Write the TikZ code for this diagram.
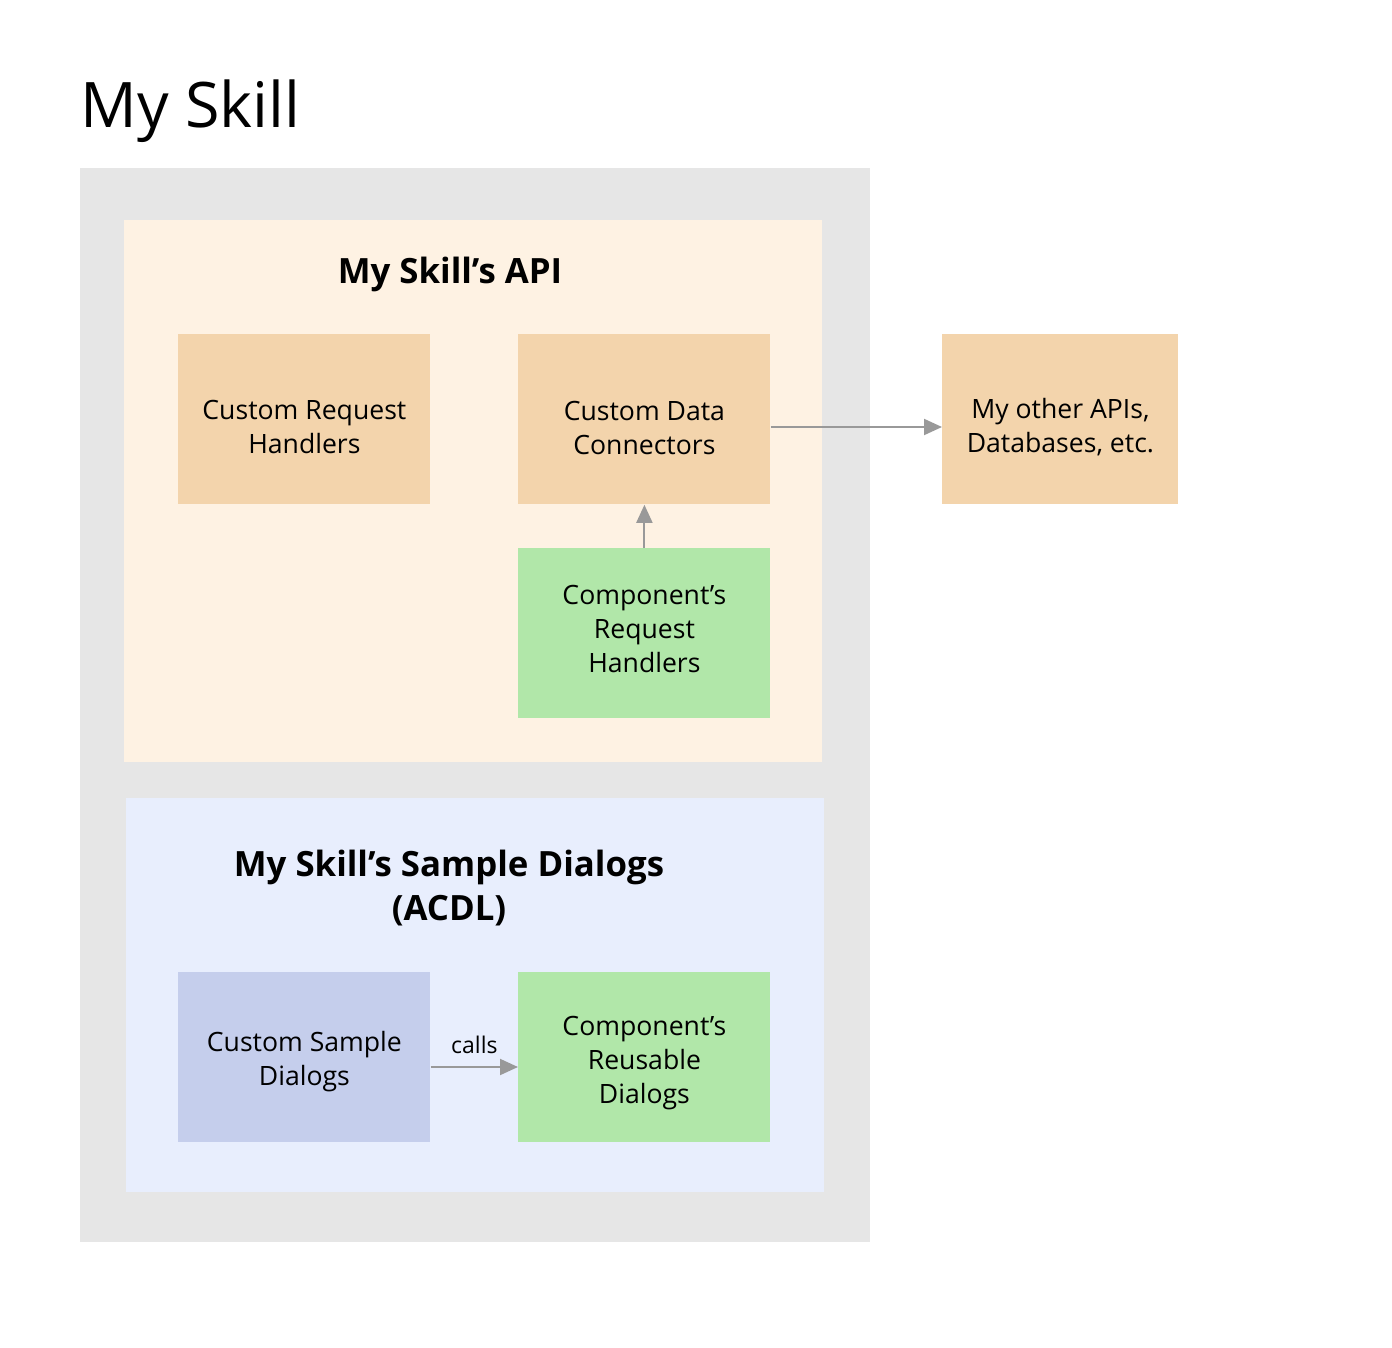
\documentclass[tikz,border=0pt]{standalone}
\usepackage{fontspec}
\setmainfont{Open Sans}
\usetikzlibrary{arrows.meta}
\definecolor{outergray}{HTML}{E6E6E6}
\definecolor{apibg}{HTML}{FEF2E3}
\definecolor{dlgbg}{HTML}{E8EEFD}
\definecolor{orangebox}{HTML}{F3D4AC}
\definecolor{greenbox}{HTML}{B1E7A9}
\definecolor{bluebox}{HTML}{C5CEEC}
\definecolor{arrowgray}{HTML}{999999}
\begin{document}
\begin{tikzpicture}[x=0.5pt,y=-0.5pt,
  region/.style={draw=none,anchor=north west,inner sep=0pt},
  box/.style={draw=none,anchor=north west,inner sep=0pt,minimum width=126pt,minimum height=85pt},
  boxtext/.style={align=center,font=\fontsize{13.3}{17}\selectfont,inner sep=0pt},
  conn/.style={draw=arrowgray,line width=1pt,-{Triangle[length=9pt,width=8pt]}}]
\useasboundingbox (0,0) rectangle (1392,1348);
\fill[white] (0,0) rectangle (1392,1348);
\node[anchor=base west,inner sep=0pt,font=\fontsize{31.4}{36}\selectfont] (title) at (80,128) {My Skill};
\node[region,fill=outergray,minimum width=395pt,minimum height=537pt] (outer) at (80,168) {};
\node[region,fill=apibg,minimum width=349pt,minimum height=271pt] (api) at (124,220) {};
\node[region,fill=dlgbg,minimum width=349pt,minimum height=197pt] (dlg) at (126,798) {};
\node[font=\bfseries\fontsize{17.4}{22}\selectfont] (apititle) at (450,274) {My Skill’s API};
\node[font=\bfseries\fontsize{17.4}{22}\selectfont,align=center] (dlgtitle) at (449,888) {My Skill’s Sample Dialogs\\(ACDL)};
\node[box,fill=orangebox] (crh) at (178,334) {};
\node[boxtext] (crhtext) at ([yshift=-4pt]crh.center) {Custom Request\\Handlers};
\node[box,fill=orangebox] (cdc) at (518,334) {};
\node[boxtext] (cdctext) at ([yshift=-4.5pt]cdc.center) {Custom Data\\Connectors};
\node[box,fill=greenbox] (comprh) at (518,548) {};
\node[boxtext] (comprhtext) at ([yshift=2pt]comprh.center) {Component’s\\Request\\Handlers};
\node[box,fill=orangebox,minimum width=118pt] (other) at (942,334) {};
\node[boxtext] (othertext) at ([yshift=-4pt]other.center) {My other APIs,\\Databases, etc.};
\node[box,fill=bluebox] (csd) at (178,972) {};
\node[boxtext] (csdtext) at ([yshift=-2pt]csd.center) {Custom Sample\\Dialogs};
\node[box,fill=greenbox] (crd) at (518,972) {};
\node[boxtext] (crdtext) at ([yshift=-3pt]crd.center) {Component’s\\Reusable\\Dialogs};
\draw[conn] (cdc.east |- 0,427) -- (other.west |- 0,427);
\draw[conn] (comprh.north) -- (cdc.south);
\draw[conn] (csd.east |- 0,1067) -- node[above,font=\fontsize{11.5}{13}\selectfont,inner sep=6pt] (callslbl) {calls} (crd.west |- 0,1067);
\end{tikzpicture}
\end{document}
